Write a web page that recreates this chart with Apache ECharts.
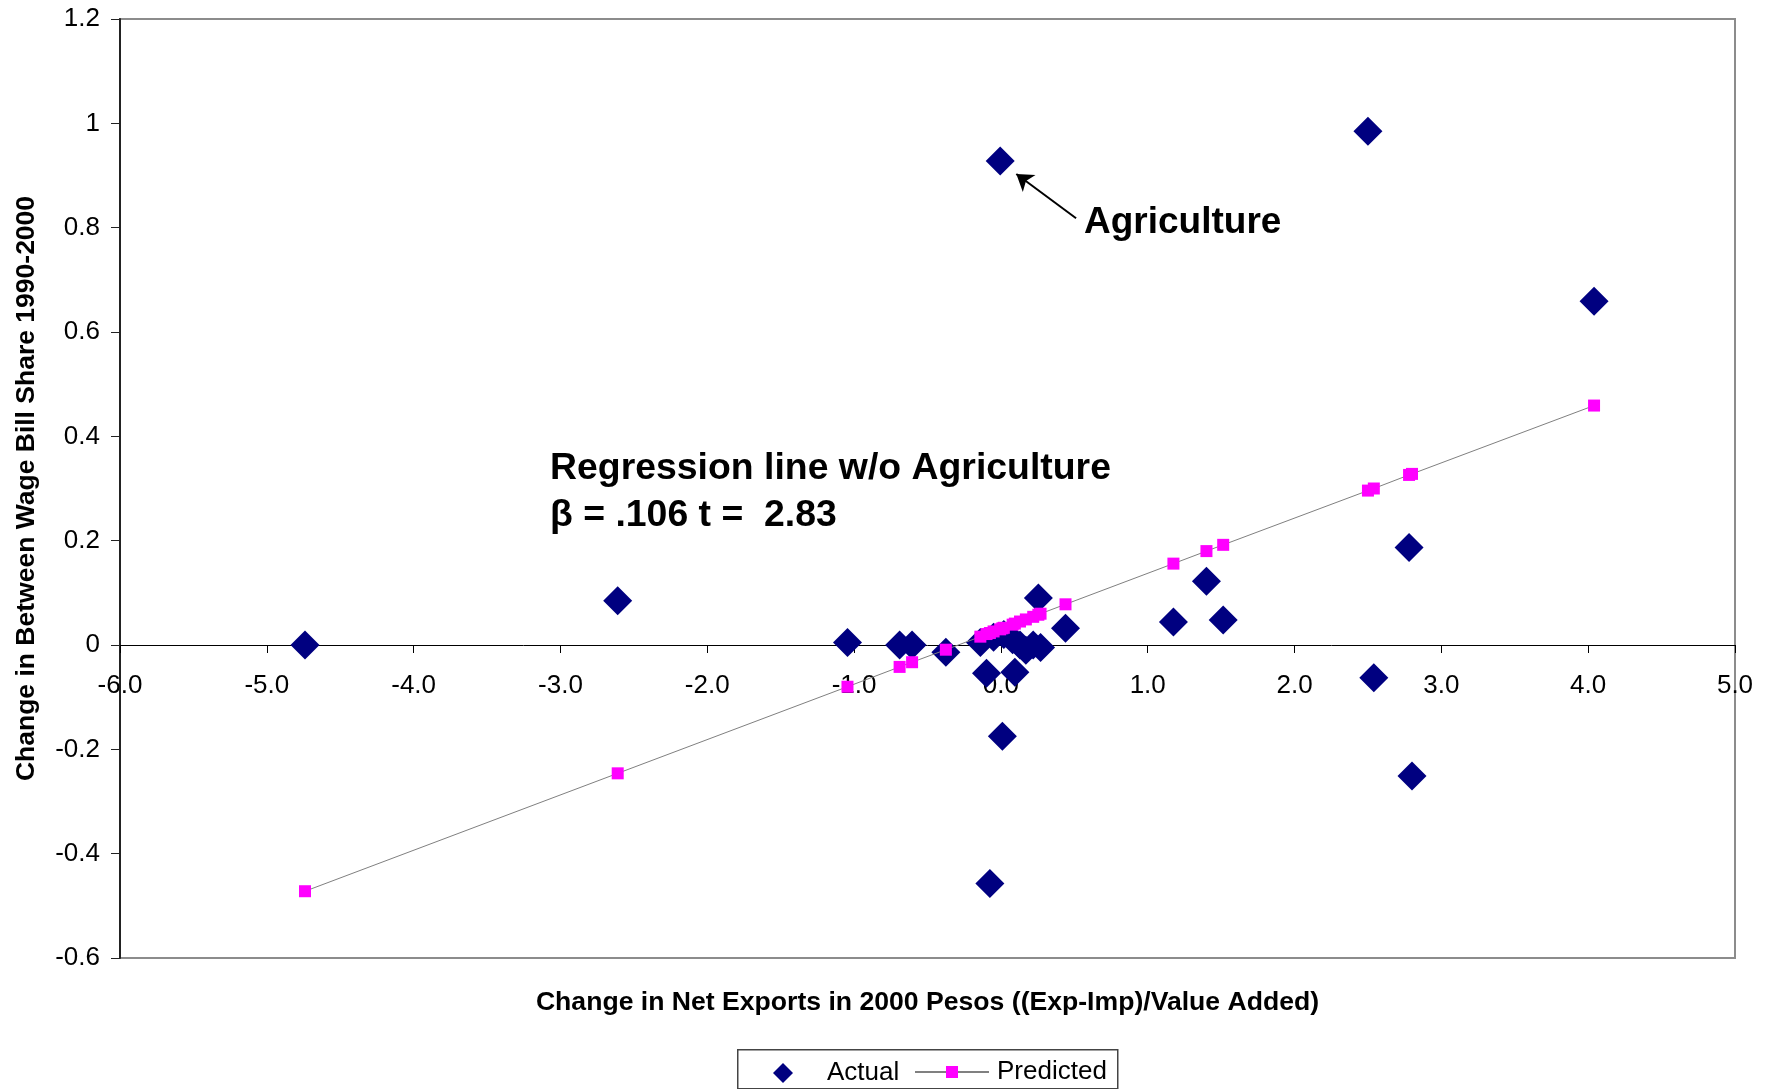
<!DOCTYPE html>
<html>
<head>
<meta charset="utf-8">
<title>Net exports and wage bill share</title>
<script src="https://cdn.jsdelivr.net/npm/echarts@6/dist/echarts.min.js"></script>
<style>
  html, body { margin: 0; padding: 0; background: #fff; }
  #chart { width: 1774px; height: 1089px; }
</style>
</head>
<body>
<div id="chart"></div>
<script>
// Change in net exports per industry (x) and the change in between wage bill share (y)
const netExportChange = [
  -4.74, -2.61, -1.045, -0.69, -0.605, -0.375, -0.14, -0.098, -0.075, -0.05,
  -0.005, 0.01, 0.02, 0.08, 0.095, 0.13, 0.17, 0.22, 0.255, 0.27,
  0.44, 1.175, 1.40, 1.514, 2.50, 2.54, 2.78, 2.80, 4.04
];
const actualShare = [
  0.000, 0.085, 0.005, 0.000, 0.000, -0.014, 0.005, -0.054, -0.457, 0.015,
  0.928, -0.175, 0.020, 0.010, -0.052, 0.000, -0.010, 0.000, 0.090, -0.005,
  0.032, 0.044, 0.122, 0.048, 0.985, -0.063, 0.187, -0.251, 0.659
];
const predictedShare = [
  -0.472, -0.246, -0.080, -0.042, -0.033, -0.009, 0.016, 0.021, 0.023, 0.026,
  0.030, 0.032, 0.033, 0.039, 0.041, 0.045, 0.049, 0.054, 0.058, 0.060,
  0.078, 0.156, 0.180, 0.192, 0.296, 0.300, 0.326, 0.328, 0.459
];
const xTickMin = -6, xTickMax = 5, xTickStep = 1;
const yTickMin = -0.6, yTickMax = 1.2, yTickStep = 0.2;

const FONT = '"Liberation Sans", Arial, Helvetica, sans-serif';

const actualPoints = netExportChange.map((x, i) => [x, actualShare[i]]);
const predictedPoints = netExportChange.map((x, i) => [x, predictedShare[i]]);

const chart = echarts.init(document.getElementById('chart'), null, { renderer: 'canvas' });

chart.setOption({
  animation: false,
  backgroundColor: '#ffffff',
  textStyle: { fontFamily: FONT },
  grid: {
    left: 120, right: 39, top: 19, bottom: 131,
    show: true, borderColor: '#8c8c8c', borderWidth: 2, backgroundColor: 'transparent'
  },
  xAxis: {
    type: 'value',
    min: xTickMin, max: xTickMax, interval: xTickStep,
    axisLine: { onZero: true, lineStyle: { color: '#000', width: 1 } },
    axisTick: { show: true, length: 8, lineStyle: { color: '#000', width: 1 } },
    // labels sit just under the zero line, not at the bottom of the plot
    axisLabel: {
      margin: -285, color: '#000', fontSize: 26, fontFamily: FONT,
      formatter: v => v.toFixed(1)
    },
    splitLine: { show: false }
  },
  yAxis: {
    type: 'value',
    min: yTickMin, max: yTickMax, interval: yTickStep,
    name: 'Change in Between Wage Bill Share 1990-2000',
    nameLocation: 'middle', nameRotate: 90, nameGap: 80,
    nameTextStyle: { fontSize: 26.5, fontWeight: 'bold', color: '#000', fontFamily: FONT },
    axisLine: { onZero: false, lineStyle: { color: '#222', width: 2 } },
    axisTick: { show: true, length: 9, lineStyle: { color: '#222', width: 1 } },
    axisLabel: { margin: 20, color: '#000', fontSize: 26, fontFamily: FONT },
    splitLine: { show: false }
  },
  legend: [
    {
      data: ['Actual'],
      left: 773, top: 1060, padding: 0,
      itemWidth: 20, itemHeight: 20,
      textStyle: { fontSize: 26, color: '#000', fontFamily: FONT, padding: [0, 0, 0, 29] },
      selectedMode: false
    },
    {
      data: ['Predicted'],
      left: 914, top: 1059, padding: 0,
      itemWidth: 74, itemHeight: 15,
      textStyle: { fontSize: 26, color: '#000', fontFamily: FONT, padding: [0, 0, 0, 3] },
      selectedMode: false
    }
  ],
  graphic: [
    {
      type: 'rect', left: 737, top: 1049, z: -1,
      shape: { width: 380, height: 39 },
      style: { fill: '#fff', stroke: '#444', lineWidth: 1.5 }
    },
    {
      type: 'text', x: 927.5, y: 1003,
      style: {
        text: 'Change in Net Exports in 2000 Pesos ((Exp-Imp)/Value Added)',
        font: 'bold 26.6px ' + FONT, fill: '#000',
        align: 'center', verticalAlign: 'middle'
      }
    },
    {
      type: 'text', left: 1084, top: 204,
      style: { text: 'Agriculture', font: 'bold 37px ' + FONT, fill: '#000' }
    },
    {
      type: 'text', left: 550, top: 445,
      style: {
        text: 'Regression line w/o Agriculture\nβ = .106 t =  2.83',
        font: 'bold 37.4px ' + FONT, lineHeight: 47, fill: '#000'
      }
    }
  ],
  series: [
    {
      name: 'Actual',
      type: 'scatter',
      data: actualPoints,
      symbol: 'diamond',
      symbolSize: 29,
      itemStyle: { color: '#000080', opacity: 1 },
      z: 2
    },
    {
      name: 'Predicted',
      type: 'line',
      data: predictedPoints,
      symbol: 'rect',
      symbolSize: 12,
      itemStyle: { color: '#ff00ff' },
      lineStyle: { color: '#808080', width: 1 },
      z: 3,
      // pointer from the label to the Agriculture point
      markLine: {
        silent: true,
        symbol: ['none', 'arrow'],
        symbolSize: 16,
        label: { show: false },
        lineStyle: { color: '#000', width: 2, type: 'solid' },
        emphasis: { disabled: true },
        data: [[{ coord: [0.512, 0.818] }, { coord: [0.105, 0.903] }]]
      }
    }
  ]
});
</script>
</body>
</html>
